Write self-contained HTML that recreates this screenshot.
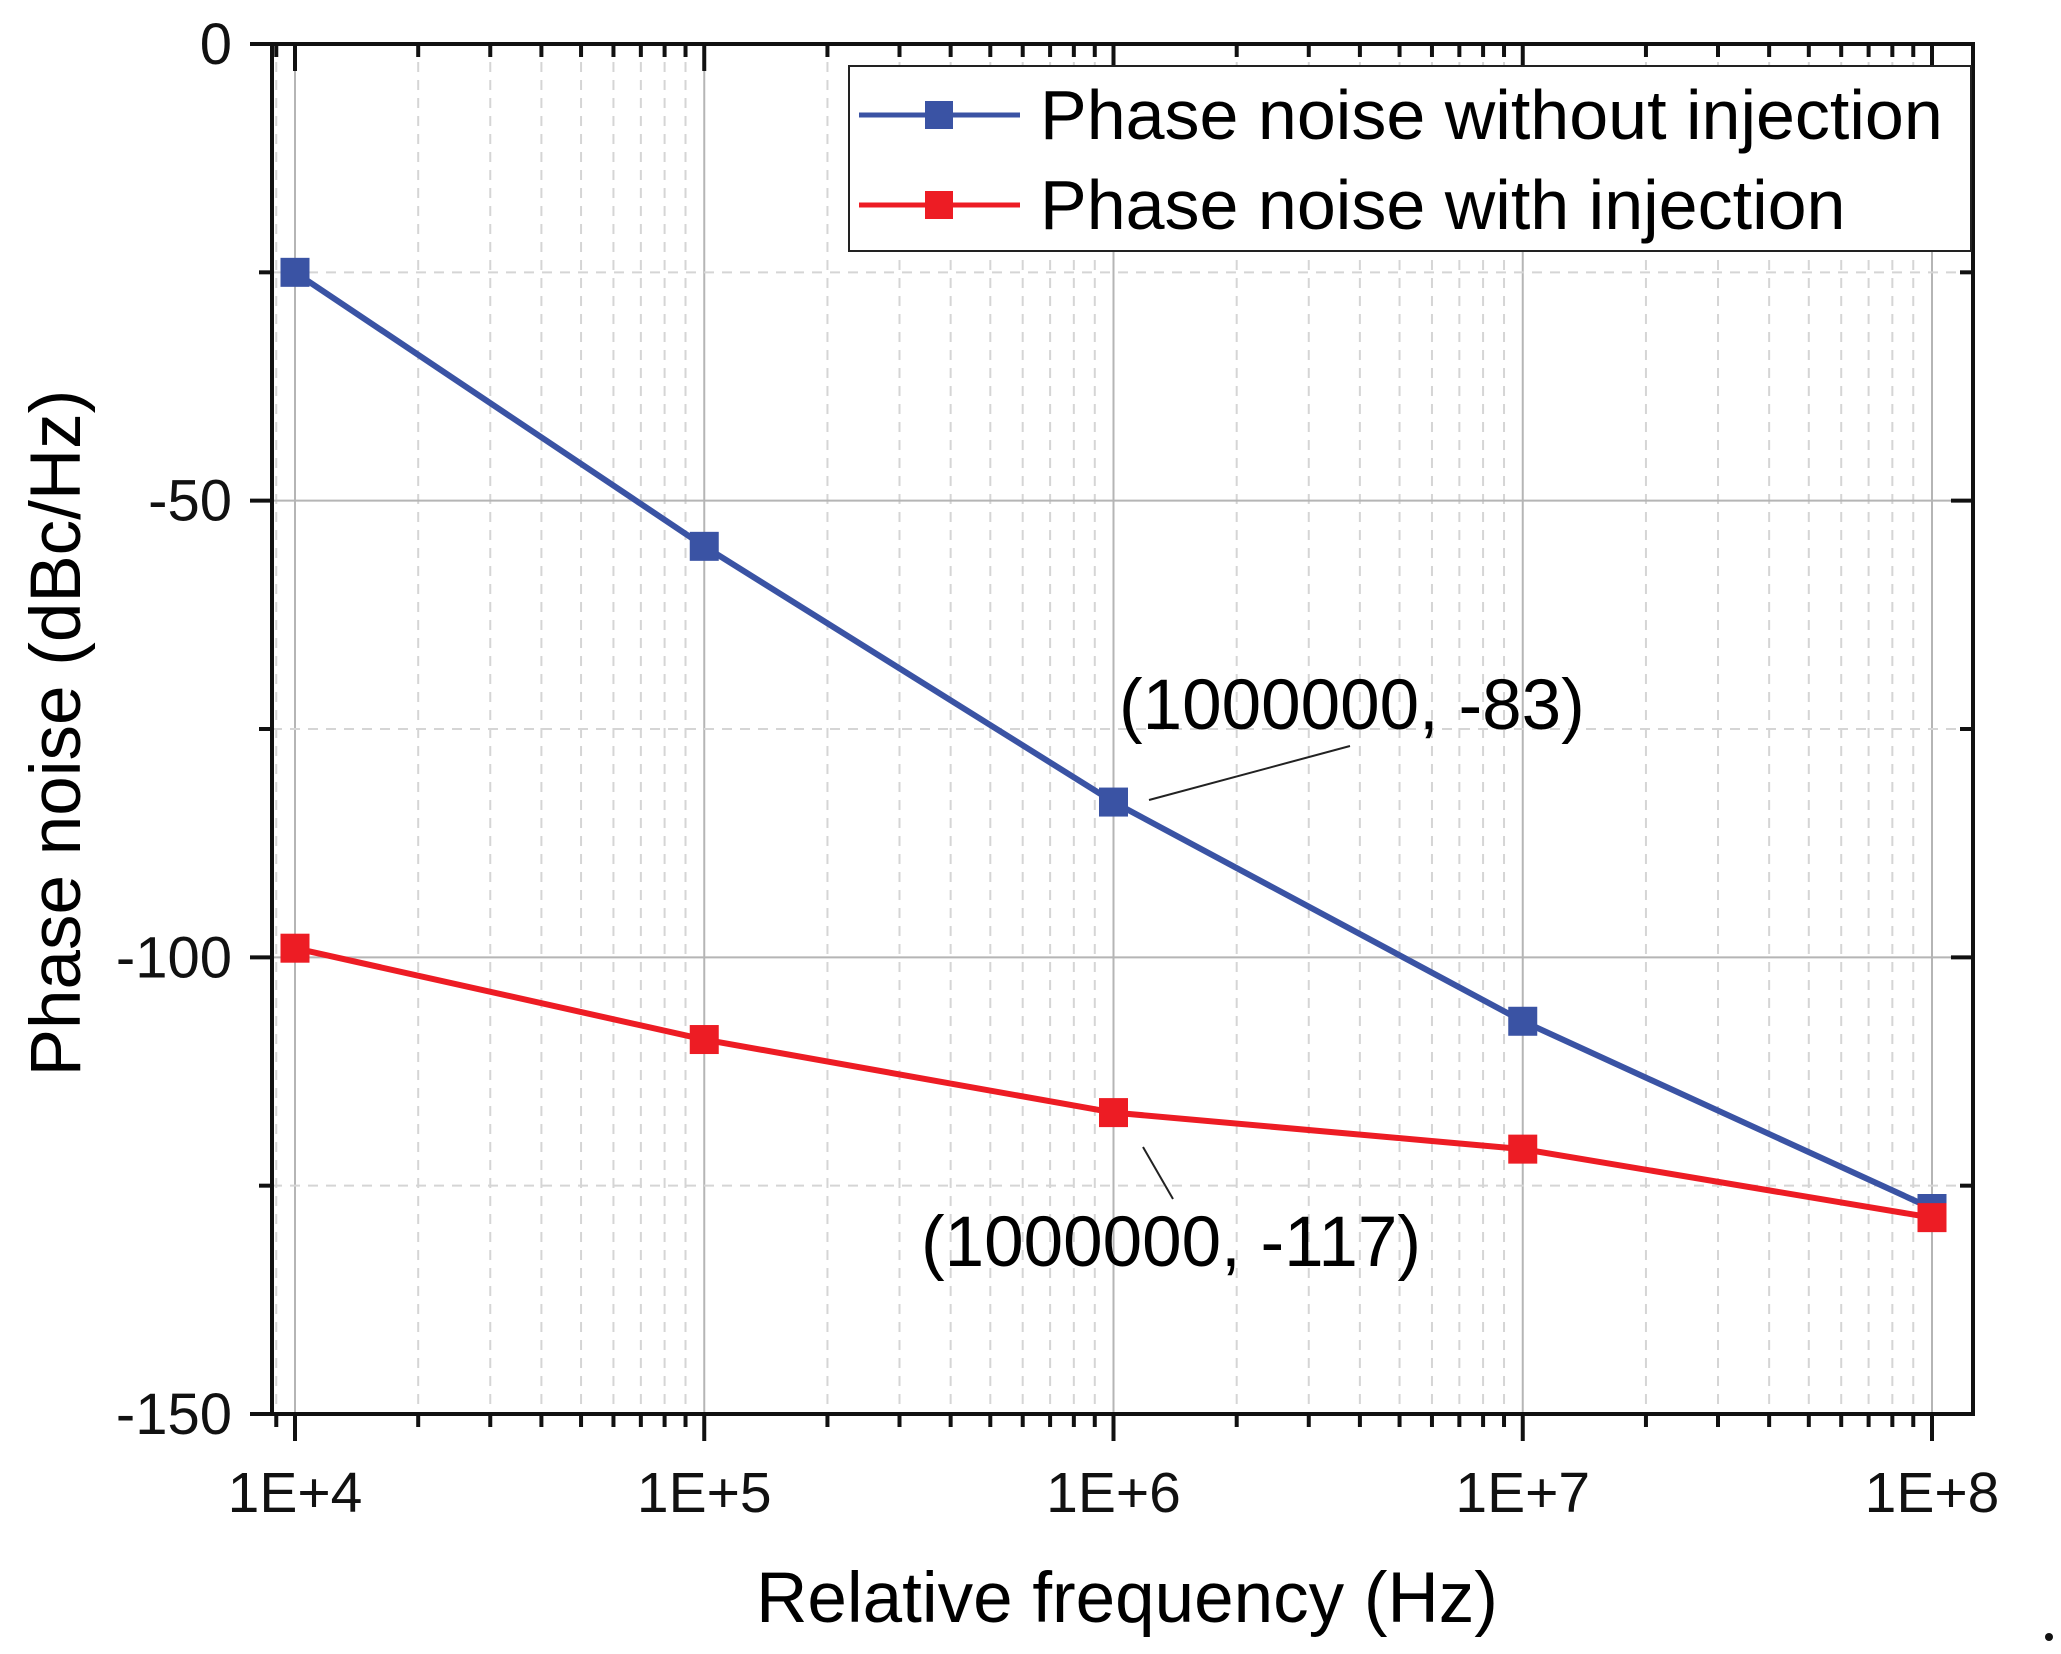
<!DOCTYPE html>
<html><head><meta charset="utf-8"><style>
html,body{margin:0;padding:0;background:#fff;}
svg{display:block;font-family:"Liberation Sans",Arial,sans-serif;}
</style></head><body>
<svg id="chart" width="2061" height="1654" viewBox="0 0 2061 1654" xmlns="http://www.w3.org/2000/svg">
<g id="grid"></g>
<g id="series"></g>
<g id="axes"></g>
<text x="0" y="0" font-size="71" text-anchor="middle" transform="translate(80,733) rotate(-90)">Phase noise (dBc/Hz)</text>
<text x="1127" y="1622" font-size="71" text-anchor="middle">Relative frequency (Hz)</text>
<g>
<rect x="849" y="66" width="1122" height="185" fill="#fff" stroke="#222" stroke-width="2"/>
<line x1="859" y1="115" x2="1020" y2="115" stroke="#3a53a4" stroke-width="5"/>
<rect x="925" y="101" width="28" height="28" fill="#3a53a4"/>
<text x="1040" y="139" font-size="70">Phase noise without injection</text>
<line x1="859" y1="205" x2="1020" y2="205" stroke="#ed1c24" stroke-width="5"/>
<rect x="925" y="191" width="28" height="28" fill="#ed1c24"/>
<text x="1040" y="229" font-size="70">Phase noise with injection</text>
</g>
<g>
<line x1="1149" y1="800" x2="1350" y2="746" stroke="#222" stroke-width="2"/>
<text x="1119" y="729" font-size="71">(1000000, -83)</text>
</g>
<g>
<line x1="1143" y1="1147" x2="1173" y2="1199" stroke="#222" stroke-width="2"/>
<text x="921" y="1266" font-size="71">(1000000, -117)</text>
</g>
<circle cx="2049" cy="1637" r="4" fill="#111"/>
</svg>
<script>
const freqs = [1e4, 1e5, 1e6, 1e7, 1e8];
const withoutInjection = [-25, -55, -83, -107, -127.5];
const withInjection = [-99, -109, -117, -121, -128.5];
const yTicks = [0, -50, -100, -150];
const xTickLabels = ["1E+4", "1E+5", "1E+6", "1E+7", "1E+8"];

const NS = "http://www.w3.org/2000/svg";
const L = 272, R = 1973, T = 44, B = 1414;
const X0 = 295, X1 = 1932;
function xScale(f){ return X0 + (Math.log10(f) - 4) * (X1 - X0) / 4; }
function yScale(v){ return T + (0 - v) * (B - T) / 150; }
function mk(tag, attrs, parent){ const e = document.createElementNS(NS, tag); for (const k in attrs) e.setAttribute(k, attrs[k]); parent.appendChild(e); return e; }

const grid = document.getElementById('grid');
const axes = document.getElementById('axes');
const series = document.getElementById('series');

for (let d = 3; d <= 8; d++) {
  for (let m = 1; m <= 9; m++) {
    const f = m * Math.pow(10, d);
    if (f < 9e3 || f > 1e8) continue;
    const x = xScale(f);
    if (x < L || x > R) continue;
    const major = (m === 1);
    const g = mk('line', {x1:x, y1:T, x2:x, y2:B, stroke: major ? '#b5b5b5' : '#d5d5d5', 'stroke-width': 2, 'stroke-dasharray': major ? 'none' : '10,8'}, grid);
    
    
    const len = major ? 27 : 13;
    const tb = mk('line', {x1:x, y1:B, x2:x, y2:B + len, stroke:'#111', 'stroke-width':4}, axes);
    
    
    const tt = mk('line', {x1:x, y1:T, x2:x, y2:T + len, stroke:'#111', 'stroke-width':4}, axes);
    
    
  }
}
for (let v = 0; v >= -150; v -= 25) {
  const y = yScale(v);
  const major = (v % 50 === 0);
  if (v !== 0 && v !== -150) {
    const g = mk('line', {x1:L, y1:y, x2:R, y2:y, stroke: major ? '#b5b5b5' : '#d5d5d5', 'stroke-width':2, 'stroke-dasharray': major ? 'none' : '10,8'}, grid);
    
    
  }
  const len = major ? 22 : 13;
  const tl = mk('line', {x1:L - len, y1:y, x2:L, y2:y, stroke:'#111', 'stroke-width':4}, axes);
  
  
  const tr = mk('line', {x1:R - len, y1:y, x2:R, y2:y, stroke:'#111', 'stroke-width':4}, axes);
  
  
}
const frame = mk('rect', {x:L, y:T, width:R - L, height:B - T, fill:'none', stroke:'#111', 'stroke-width':4}, axes);



yTicks.forEach(v => {
  const t = mk('text', {x:232, y:yScale(v) + 20, 'font-size':58, 'text-anchor':'end', fill:'#111'}, axes);
  t.textContent = String(v);
  
  
});
freqs.forEach((f, i) => {
  const t = mk('text', {x:xScale(f), y:1512, 'font-size':57, 'text-anchor':'middle', fill:'#111'}, axes);
  t.textContent = xTickLabels[i];
  
  
});

function drawSeries(vals, color, name){
  const pts = freqs.map((f, i) => xScale(f) + ',' + yScale(vals[i])).join(' ');
  const pl = mk('polyline', {points:pts, fill:'none', stroke:color, 'stroke-width':6, 'stroke-linejoin':'round'}, series);
  
  
  freqs.forEach((f, i) => {
    const r = mk('rect', {x:xScale(f) - 14.5, y:yScale(vals[i]) - 14.5, width:29, height:29, fill:color}, series);
    
    
  });
}
drawSeries(withoutInjection, '#3a53a4', 'without-injection');
drawSeries(withInjection, '#ed1c24', 'with-injection');
</script>
</body></html>
